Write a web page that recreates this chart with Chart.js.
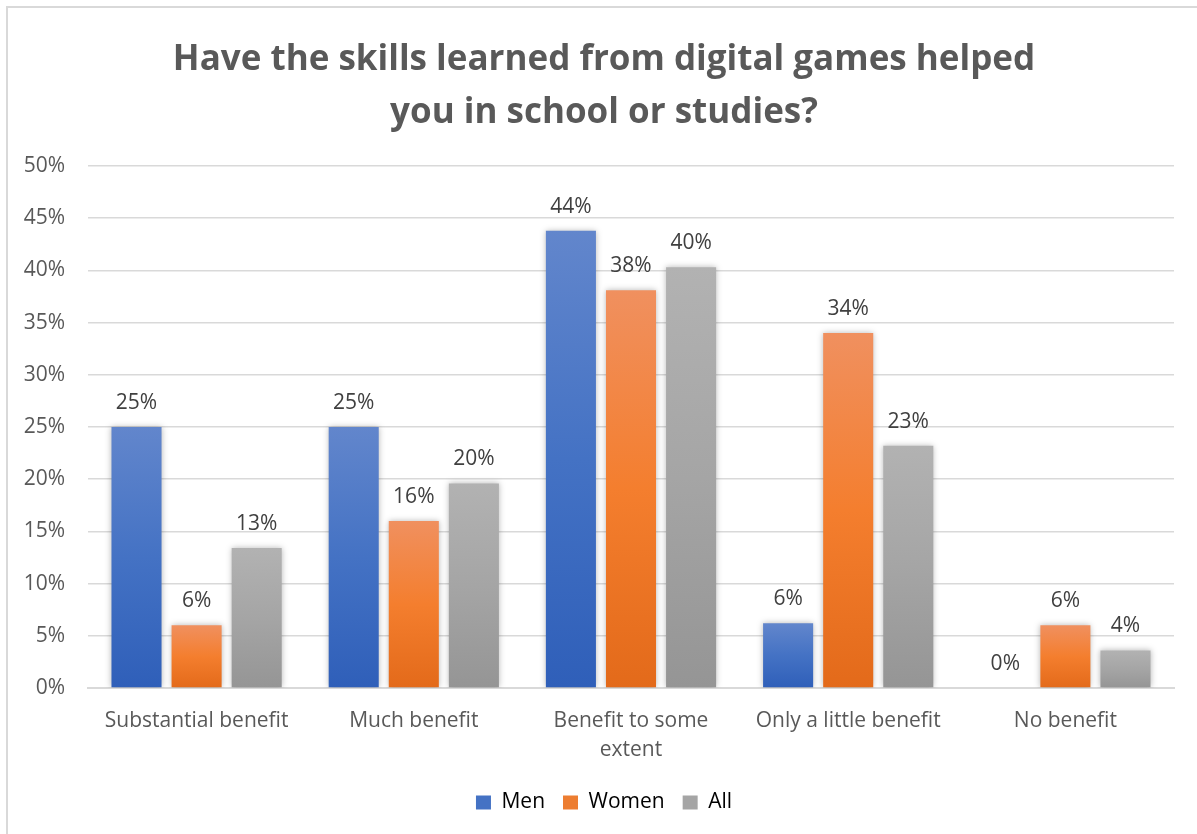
<!DOCTYPE html>
<html>
<head>
<meta charset="utf-8">
<script src="https://cdn.jsdelivr.net/npm/chart.js@4/dist/chart.umd.min.js"></script>
<style>
  html, body { margin: 0; padding: 0; background: #ffffff; overflow: hidden; }
  #wrap { position: relative; width: 1197px; height: 834px; }
  #frame { position: absolute; left: 6px; top: 6px; width: 1300px; height: 900px;
           border: 2px solid #d9d9d9; box-sizing: border-box; pointer-events: none; }
  canvas { position: absolute; left: 0; top: 0; }
</style>
</head>
<body>
<div id="wrap">
  <div id="frame"></div>
  <canvas id="chart" width="1197" height="834"></canvas>
</div>
<script>
// Survey answers, share of respondents in percent
const categories = ['Substantial benefit', 'Much benefit', ['Benefit to some', 'extent'], 'Only a little benefit', 'No benefit'];
const seriesNames = ['Men', 'Women', 'All'];
const men   = [25.0, 25.0, 43.8, 6.2, 0.0];
const women = [6.0, 16.0, 38.1, 34.0, 6.0];
const all   = [13.4, 19.6, 40.3, 23.2, 3.6];
const yTicks = [0, 5, 10, 15, 20, 25, 30, 35, 40, 45, 50];

const TEXT = '#595959';
const FONT = "'Open Sans', 'DejaVu Sans', sans-serif";

// top / middle / bottom colour stops for each series
const palettes = [
  { solid: '#4472c4', stops: ['#6286cc', '#4472c4', '#2f5fb9'] },
  { solid: '#ed7d31', stops: ['#f0905f', '#f47e2e', '#e36a1a'] },
  { solid: '#a5a5a5', stops: ['#b2b2b2', '#a5a5a5', '#959595'] }
];

function barFill(p) {
  return function (ctx) {
    const chart = ctx.chart;
    if (!chart.chartArea || ctx.type !== 'data') return p.solid;
    const ys = chart.scales.y;
    const top = ys.getPixelForValue(ctx.raw);
    const bottom = ys.getPixelForValue(0);
    if (bottom - top < 1) return p.solid;
    const g = chart.ctx.createLinearGradient(0, top, 0, bottom);
    g.addColorStop(0, p.stops[0]);
    g.addColorStop(0.5, p.stops[1]);
    g.addColorStop(1, p.stops[2]);
    return g;
  };
}

// soft outer shadow behind the bars
const barShadow = {
  id: 'barShadow',
  beforeDatasetDraw(chart) {
    const c = chart.ctx;
    c.save();
    c.shadowColor = 'rgba(0,0,0,0.28)';
    c.shadowBlur = 6;
    c.shadowOffsetX = 0;
    c.shadowOffsetY = 0;
  },
  afterDatasetDraw(chart) { chart.ctx.restore(); }
};

// value labels above each bar
const valueLabels = {
  id: 'valueLabels',
  afterDatasetsDraw(chart) {
    const c = chart.ctx;
    c.save();
    c.font = "21px " + FONT;
    c.fillStyle = '#404040';
    c.textAlign = 'center';
    c.textBaseline = 'middle';
    chart.data.datasets.forEach((ds, i) => {
      chart.getDatasetMeta(i).data.forEach((bar, j) => {
        c.fillText(Math.round(ds.data[j]) + '%', bar.x, bar.y - 24);
      });
    });
    c.restore();
  }
};

const seriesData = [men, women, all];

new Chart(document.getElementById('chart'), {
  type: 'bar',
  data: {
    labels: categories,
    datasets: seriesNames.map((name, i) => ({
      label: name,
      data: seriesData[i],
      backgroundColor: barFill(palettes[i]),
      borderWidth: 0,
      categoryPercentage: 0.83,
      barPercentage: 0.833
    }))
  },
  options: {
    responsive: false,
    animation: false,
    devicePixelRatio: 1,
    layout: { padding: { left: 34, right: 23, top: 0, bottom: 11 } },
    plugins: {
      title: {
        display: true,
        text: ['Have the skills learned from digital games helped', 'you in school or studies?'],
        color: TEXT,
        font: { family: FONT, size: 35, weight: 'bold', lineHeight: 53 / 35 },
        padding: { top: 34, bottom: 26 }
      },
      legend: {
        position: 'bottom',
        labels: {
          color: TEXT,
          font: { family: FONT, size: 21 },
          boxWidth: 15,
          boxHeight: 14,
          padding: 18,
          generateLabels(chart) {
            return chart.data.datasets.map((ds, i) => ({
              text: ds.label,
              fillStyle: palettes[i].solid,
              strokeStyle: palettes[i].solid,
              lineWidth: 0,
              hidden: false,
              datasetIndex: i
            }));
          }
        }
      },
      tooltip: { enabled: false }
    },
    scales: {
      x: {
        grid: { display: false, drawTicks: false },
        border: { display: true, color: '#d9d9d9', width: 2 },
        ticks: { color: TEXT, font: { family: FONT, size: 21, lineHeight: 29 / 21 }, padding: 19, maxRotation: 0, autoSkip: false },
        afterFit(axis) { axis.height = 86; }
      },
      y: {
        min: 0,
        max: 50,
        afterBuildTicks(axis) { axis.ticks = yTicks.map(v => ({ value: v })); },
        grid: { color: '#d9d9d9', lineWidth: 1.5, drawTicks: false },
        border: { display: false },
        ticks: { color: TEXT, font: { family: FONT, size: 21 }, padding: 23, callback: v => v + '%' },
        afterFit(axis) {
          axis.width = 54;
          // tick labels reach a little past the narrow axis box; draw them unclipped
          axis._computeLabelArea = () => undefined;
        }
      }
    }
  },
  plugins: [barShadow, valueLabels]
});
</script>
</body>
</html>
